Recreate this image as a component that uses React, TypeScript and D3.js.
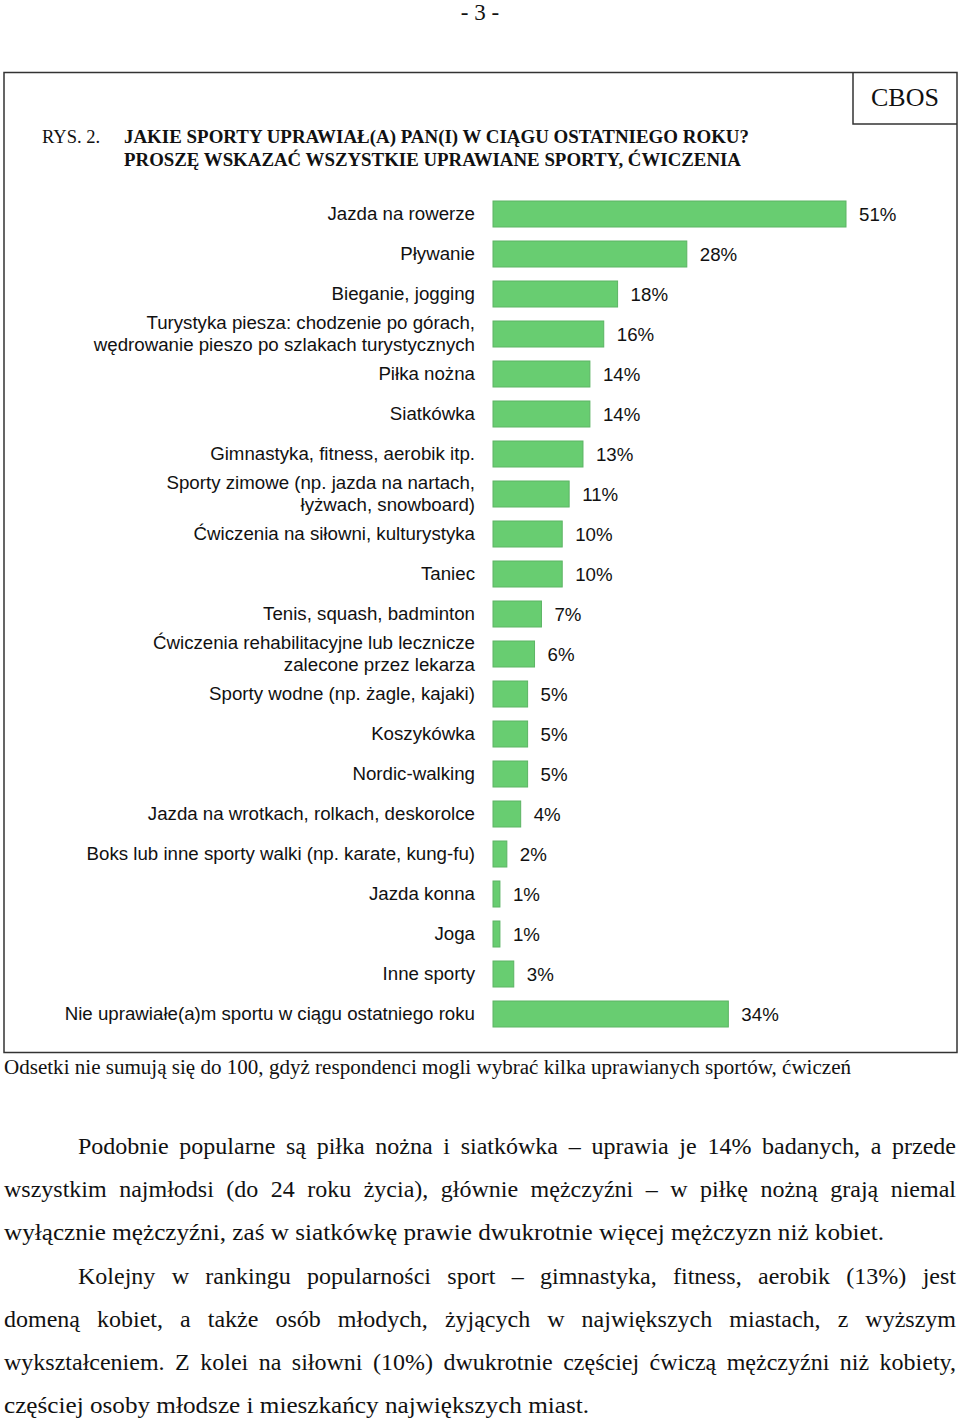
import React, { useEffect, useRef } from "react";
import * as d3 from "d3";

const categories: string[] = [
  "Jazda na rowerze",
  "Pływanie",
  "Bieganie, jogging",
  "Turystyka piesza: chodzenie po górach,\nwędrowanie pieszo po szlakach turystycznych",
  "Piłka nożna",
  "Siatkówka",
  "Gimnastyka, fitness, aerobik itp.",
  "Sporty zimowe (np. jazda na nartach,\nłyżwach, snowboard)",
  "Ćwiczenia na siłowni, kulturystyka",
  "Taniec",
  "Tenis, squash, badminton",
  "Ćwiczenia rehabilitacyjne lub lecznicze\nzalecone przez lekarza",
  "Sporty wodne (np. żagle, kajaki)",
  "Koszykówka",
  "Nordic-walking",
  "Jazda na wrotkach, rolkach, deskorolce",
  "Boks lub inne sporty walki (np. karate, kung-fu)",
  "Jazda konna",
  "Joga",
  "Inne sporty",
  "Nie uprawiałe(a)m sportu w ciągu ostatniego roku",
];

const values: number[] = [51, 28, 18, 16, 14, 14, 13, 11, 10, 10, 7, 6, 5, 5, 5, 4, 2, 1, 1, 3, 34];

const pageNumber = "- 3 -";
const figNumber = "RYS. 2.";
const titleLines: string[] = [
  "JAKIE SPORTY UPRAWIAŁ(A) PAN(I) W CIĄGU OSTATNIEGO ROKU?",
  "PROSZĘ WSKAZAĆ WSZYSTKIE UPRAWIANE SPORTY, ĆWICZENIA",
];
const brand = "CBOS";
const footnote =
  "Odsetki nie sumują się do 100, gdyż respondenci mogli wybrać kilka uprawianych sportów, ćwiczeń";

// paragraph lines: [text, indent, justify]
const paragraphLines: [string, boolean, boolean][] = [
  ["Podobnie popularne są piłka nożna i siatkówka – uprawia je 14% badanych, a przede", true, true],
  ["wszystkim najmłodsi (do 24 roku życia), głównie mężczyźni – w piłkę nożną grają niemal", false, true],
  ["wyłącznie mężczyźni, zaś w siatkówkę prawie dwukrotnie więcej mężczyzn niż kobiet.", false, false],
  ["Kolejny w rankingu popularności sport – gimnastyka, fitness, aerobik (13%) jest", true, true],
  ["domeną kobiet, a także osób młodych, żyjących w największych miastach, z wyższym", false, true],
  ["wykształceniem. Z kolei na siłowni (10%) dwukrotnie częściej ćwiczą mężczyźni niż kobiety,", false, true],
  ["częściej osoby młodsze i mieszkańcy największych miast.", false, false],
];

const SERIF = "'Liberation Serif', 'Times New Roman', serif";
const SANS = "'Liberation Sans', Arial, sans-serif";

export default function App() {
  const ref = useRef<SVGSVGElement>(null);

  const x = d3.scaleLinear().domain([0, 51]).range([493, 846]);
  const y = d3.scalePoint<string>().domain(categories).range([214, 1014]);
  const barH = 26;

  useEffect(() => {
    const svg = ref.current;
    if (!svg) return;
    d3.select(svg)
      .selectAll<SVGTextElement, unknown>("text.fit")
      .each(function () {
        const el = this as SVGTextElement;
        const target = +(el.getAttribute("data-w") || 0);
        const justify = el.getAttribute("data-j") === "1";
        el.style.wordSpacing = "";
        el.removeAttribute("textLength");
        el.removeAttribute("lengthAdjust");
        const natural = el.getComputedTextLength();
        const spaces = (el.textContent || "").split(" ").length - 1;
        if (natural > target) {
          el.setAttribute("textLength", String(target));
          el.setAttribute("lengthAdjust", "spacingAndGlyphs");
        } else if (justify && spaces > 0) {
          el.style.wordSpacing = (target - natural) / spaces + "px";
        } else if (!justify) {
          const sx = target / natural;
          if (sx < 1.02) return;
          el.setAttribute("textLength", String(target));
          el.setAttribute("lengthAdjust", "spacingAndGlyphs");
        }
      });
  }, []);

  const lineH = 43.2;
  const paraBase = 1154;

  return (
    <svg
      ref={ref}
      width={960}
      height={1420}
      style={{ position: "absolute", left: 0, top: 0, background: "#fff" }}
    >
      <rect x={0} y={0} width={960} height={1420} fill="#fff" />
      <text x={480} y={20} textAnchor="middle" fontFamily={SERIF} fontSize={23} fill="#111">
        {pageNumber}
      </text>

      {/* frame */}
      <rect x={4} y={72.5} width={953} height={980} fill="none" stroke="#333" strokeWidth={1.5} />
      <path d="M853,72.5 V124 H957" fill="none" stroke="#333" strokeWidth={1.5} />
      <text x={905} y={106} textAnchor="middle" fontFamily={SERIF} fontSize={26} fill="#111">
        {brand}
      </text>

      {/* title */}
      <text x={42} y={143} fontFamily={SERIF} fontSize={18.5} fill="#111">
        {figNumber}
      </text>
      {titleLines.map((t, i) => (
        <text
          key={i}
          className="fit"
          data-w={i === 0 ? 625 : 617}
          data-j="0"
          x={124}
          y={143 + i * 23}
          fontFamily={SERIF}
          fontWeight="bold"
          fontSize={18}
          fill="#111"
        >
          {t}
        </text>
      ))}

      {/* bars */}
      <g>
        {categories.map((c, i) => (
          <rect
            key={c}
            x={x(0)}
            y={(y(c) as number) - barH / 2}
            width={x(values[i]) - x(0)}
            height={barH}
            fill="#68cd71"
            stroke="#5cb464"
            strokeWidth={1}
          />
        ))}
      </g>
      {/* value labels */}
      <g fontFamily={SANS} fontSize={18.7} fill="#111">
        {categories.map((c, i) => (
          <text key={c} x={x(values[i]) + 13} y={y(c) as number} dy="0.35em">
            {values[i]}%
          </text>
        ))}
      </g>
      {/* category labels */}
      <g fontFamily={SANS} fontSize={18.7} fill="#111" textAnchor="end">
        {categories.map((c) => {
          const lines = c.split("\n");
          const cy = y(c) as number;
          return (
            <text key={c} x={475} y={cy - ((lines.length - 1) * 22) / 2 - 1} dy="0.35em">
              {lines.map((l, k) => (
                <tspan key={k} x={475} dy={k === 0 ? "0.35em" : 22}>
                  {l}
                </tspan>
              ))}
            </text>
          );
        })}
      </g>

      {/* footnote */}
      <text
        className="fit"
        data-w={847}
        data-j="0"
        x={4}
        y={1074}
        fontFamily={SERIF}
        fontSize={20}
        fill="#111"
      >
        {footnote}
      </text>

      {/* paragraph */}
      {paragraphLines.map(([t, indent, justify], i) => {
        const x0 = indent ? 78 : 4;
        const w = justify ? 956 - x0 : i === 2 ? 880 : 585;
        return (
          <text
            key={i}
            className="fit"
            data-w={w}
            data-j={justify ? "1" : "0"}
            x={x0}
            y={paraBase + i * lineH}
            fontFamily={SERIF}
            fontSize={24}
            fill="#111"
          >
            {t}
          </text>
        );
      })}
    </svg>
  );
}
